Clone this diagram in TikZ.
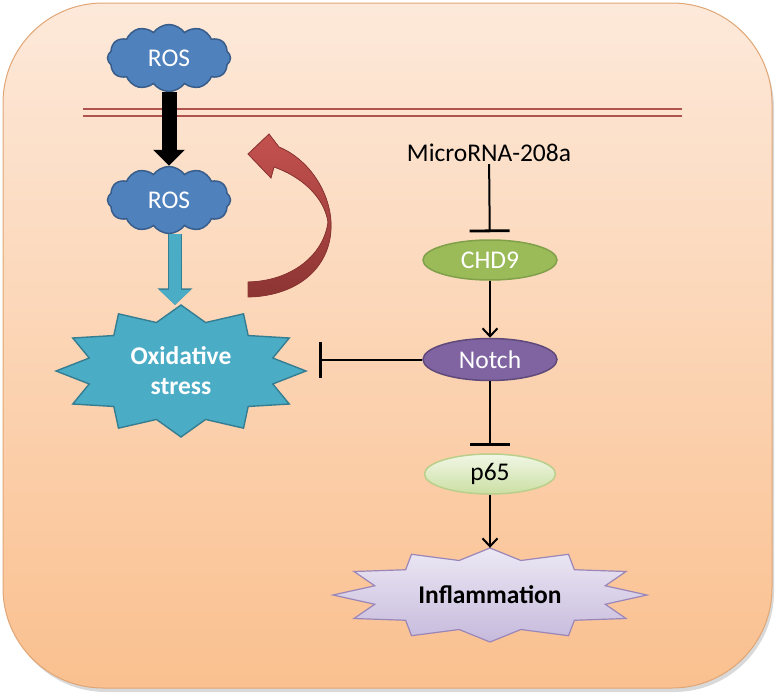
\documentclass[tikz,border=0pt]{standalone}
\usepackage{fontspec}
\setmainfont{Carlito}
\usepackage{tikz}
\usetikzlibrary{positioning,arrows.meta,shapes.geometric,shapes.symbols}
\definecolor{cellTop}{HTML}{FDE9DA}
\definecolor{cellBottom}{HTML}{FAC08F}
\definecolor{cellEdge}{HTML}{E0A676}
\definecolor{membRed}{HTML}{B0524E}
\definecolor{rosBlue}{HTML}{4F81BD}
\definecolor{rosEdge}{HTML}{385D8A}
\definecolor{oxCyan}{HTML}{4BACC6}
\definecolor{oxEdge}{HTML}{357D91}
\definecolor{loopRed}{HTML}{C4524F}
\definecolor{loopDark}{HTML}{8C3533}
\definecolor{chdGreen}{HTML}{9BBB59}
\definecolor{chdEdge}{HTML}{80A04A}
\definecolor{notchPurple}{HTML}{8064A2}
\definecolor{notchEdge}{HTML}{5F4A7A}
\definecolor{pTop}{HTML}{F1F7E6}
\definecolor{pBottom}{HTML}{CBDFA3}
\definecolor{infTop}{HTML}{ECE8F4}
\definecolor{infBottom}{HTML}{C6BADC}
\definecolor{infEdge}{HTML}{9A86B8}
\tikzset{
  rosCloud/.style={cloud, cloud puffs=12, cloud puff arc=110, cloud ignores aspect, draw=rosEdge, fill=rosBlue, line width=1.5pt, minimum width=123pt, minimum height=67pt, inner sep=0pt, text=white},
  protein/.style={ellipse, minimum width=134pt, minimum height=40pt, inner sep=0pt, line width=1.5pt},
  chdNode/.style={protein, fill=chdGreen, draw=chdEdge, text=white},
  notchNode/.style={protein, fill=notchPurple, draw=notchEdge, text=white, minimum height=42pt},
  pNode/.style={protein, top color=pTop, bottom color=pBottom, draw=chdGreen!70, minimum width=131pt},
  burstSpot/.style={ellipse, inner sep=0pt, align=center, font=\fontsize{25.5}{30}\selectfont\bfseries},
  txt/.style={inner sep=2pt},
  act/.style={-{Straight Barb[length=8pt, width=15pt]}, line width=2pt},
  inhib/.style={-{Bar[width=40pt, line width=2.8pt]}, line width=2pt},
  blockBlack/.style={-{Triangle[width=31pt, length=16pt]}, line width=15pt},
  blockCyan/.style={-{Triangle[width=31pt, length=15pt]}, line width=12pt, draw=oxCyan,
    preaction={draw=oxEdge, line width=14.5pt, -{Triangle[width=34pt, length=16.5pt]}}}
}
% 12-point burst: center, x radius, y radius, options
\newcommand{\burstShape}[4]{%
  \path[#4, shift={(#1)}] plot[samples at={0,...,23}, variable=\k]
    ({cos(\k*15)*(1-0.24*mod(\k,2))*#2}, {sin(\k*15)*(1-0.24*mod(\k,2))*#3}) -- cycle;}

\begin{document}
\begin{tikzpicture}[x=1pt, y=-1pt, font=\fontsize{25.5}{30}\selectfont]
  \useasboundingbox (0,0) rectangle (776,696);
  % cell
  \fill[black!15, rounded corners=100pt] (6,8) rectangle (774,692);
  \shade[top color=cellTop, bottom color=cellBottom, draw=cellEdge, line width=1pt, rounded corners=100pt] (3,3) rectangle (772,688);
  \draw[membRed, line width=1.1pt] (83,109) -- (682,109) (83,116) -- (682,116);

  % ROS side
  \node[rosCloud] (rosOut) at (169,58) {ROS};
  \node[rosCloud] (rosIn) at (169,200) {ROS};
  \coordinate (oxC) at (181,371);
  \burstShape{oxC}{125}{66}{fill=oxCyan, draw=oxEdge, line width=1.4pt}
  \node[burstSpot, minimum width=250pt, minimum height=132pt, text=white] (ox) at (oxC) {Oxidative\\stress};

  \draw[blockBlack] (rosOut.south) -- (rosIn.north);
  \draw[blockCyan] ([xshift=6pt]rosIn.south) -- ([xshift=-6pt]ox.north);
  % feedback loop
  \filldraw[top color=loopRed, bottom color=loopDark, draw=loopDark, line width=0.8pt]
    (248,297) .. controls (300,296) and (333,265) .. (331,222)
    .. controls (329,188) and (306,158) .. (279,147)
    -- (269,134) -- (248,154) -- (271,178) -- (274,167)
    .. controls (300,176) and (324,196) .. (328,222)
    .. controls (324,254) and (293,281) .. (248,282) -- cycle;

  % Notch side
  \node[txt] (mir) at (489,153) {MicroRNA-208a};
  \node[chdNode] (chd) at (490,260) {CHD9};
  \node[notchNode, below=57pt of chd] (notch) {Notch};
  \node[pNode, below=72pt of notch] (p65) {p65};
  \coordinate (infC) at (490,595);
  \burstShape{infC}{157}{47}{top color=infTop, bottom color=infBottom, draw=infEdge, line width=1.2pt}
  \node[burstSpot, minimum width=314pt, minimum height=94pt] (infl) at (infC) {Inflammation};

  \draw[inhib, shorten >=7pt] (mir) -- (chd);
  \draw[act] (chd) -- (notch);
  \draw[inhib, shorten >=7pt] (notch) -- (p65);
  \draw[act] (p65) -- (infl);
  \draw[inhib, -{Bar[width=36pt, line width=2.8pt]}, shorten >=13pt] (notch.west) -- (notch.west -| ox.east);
\end{tikzpicture}
\end{document}
